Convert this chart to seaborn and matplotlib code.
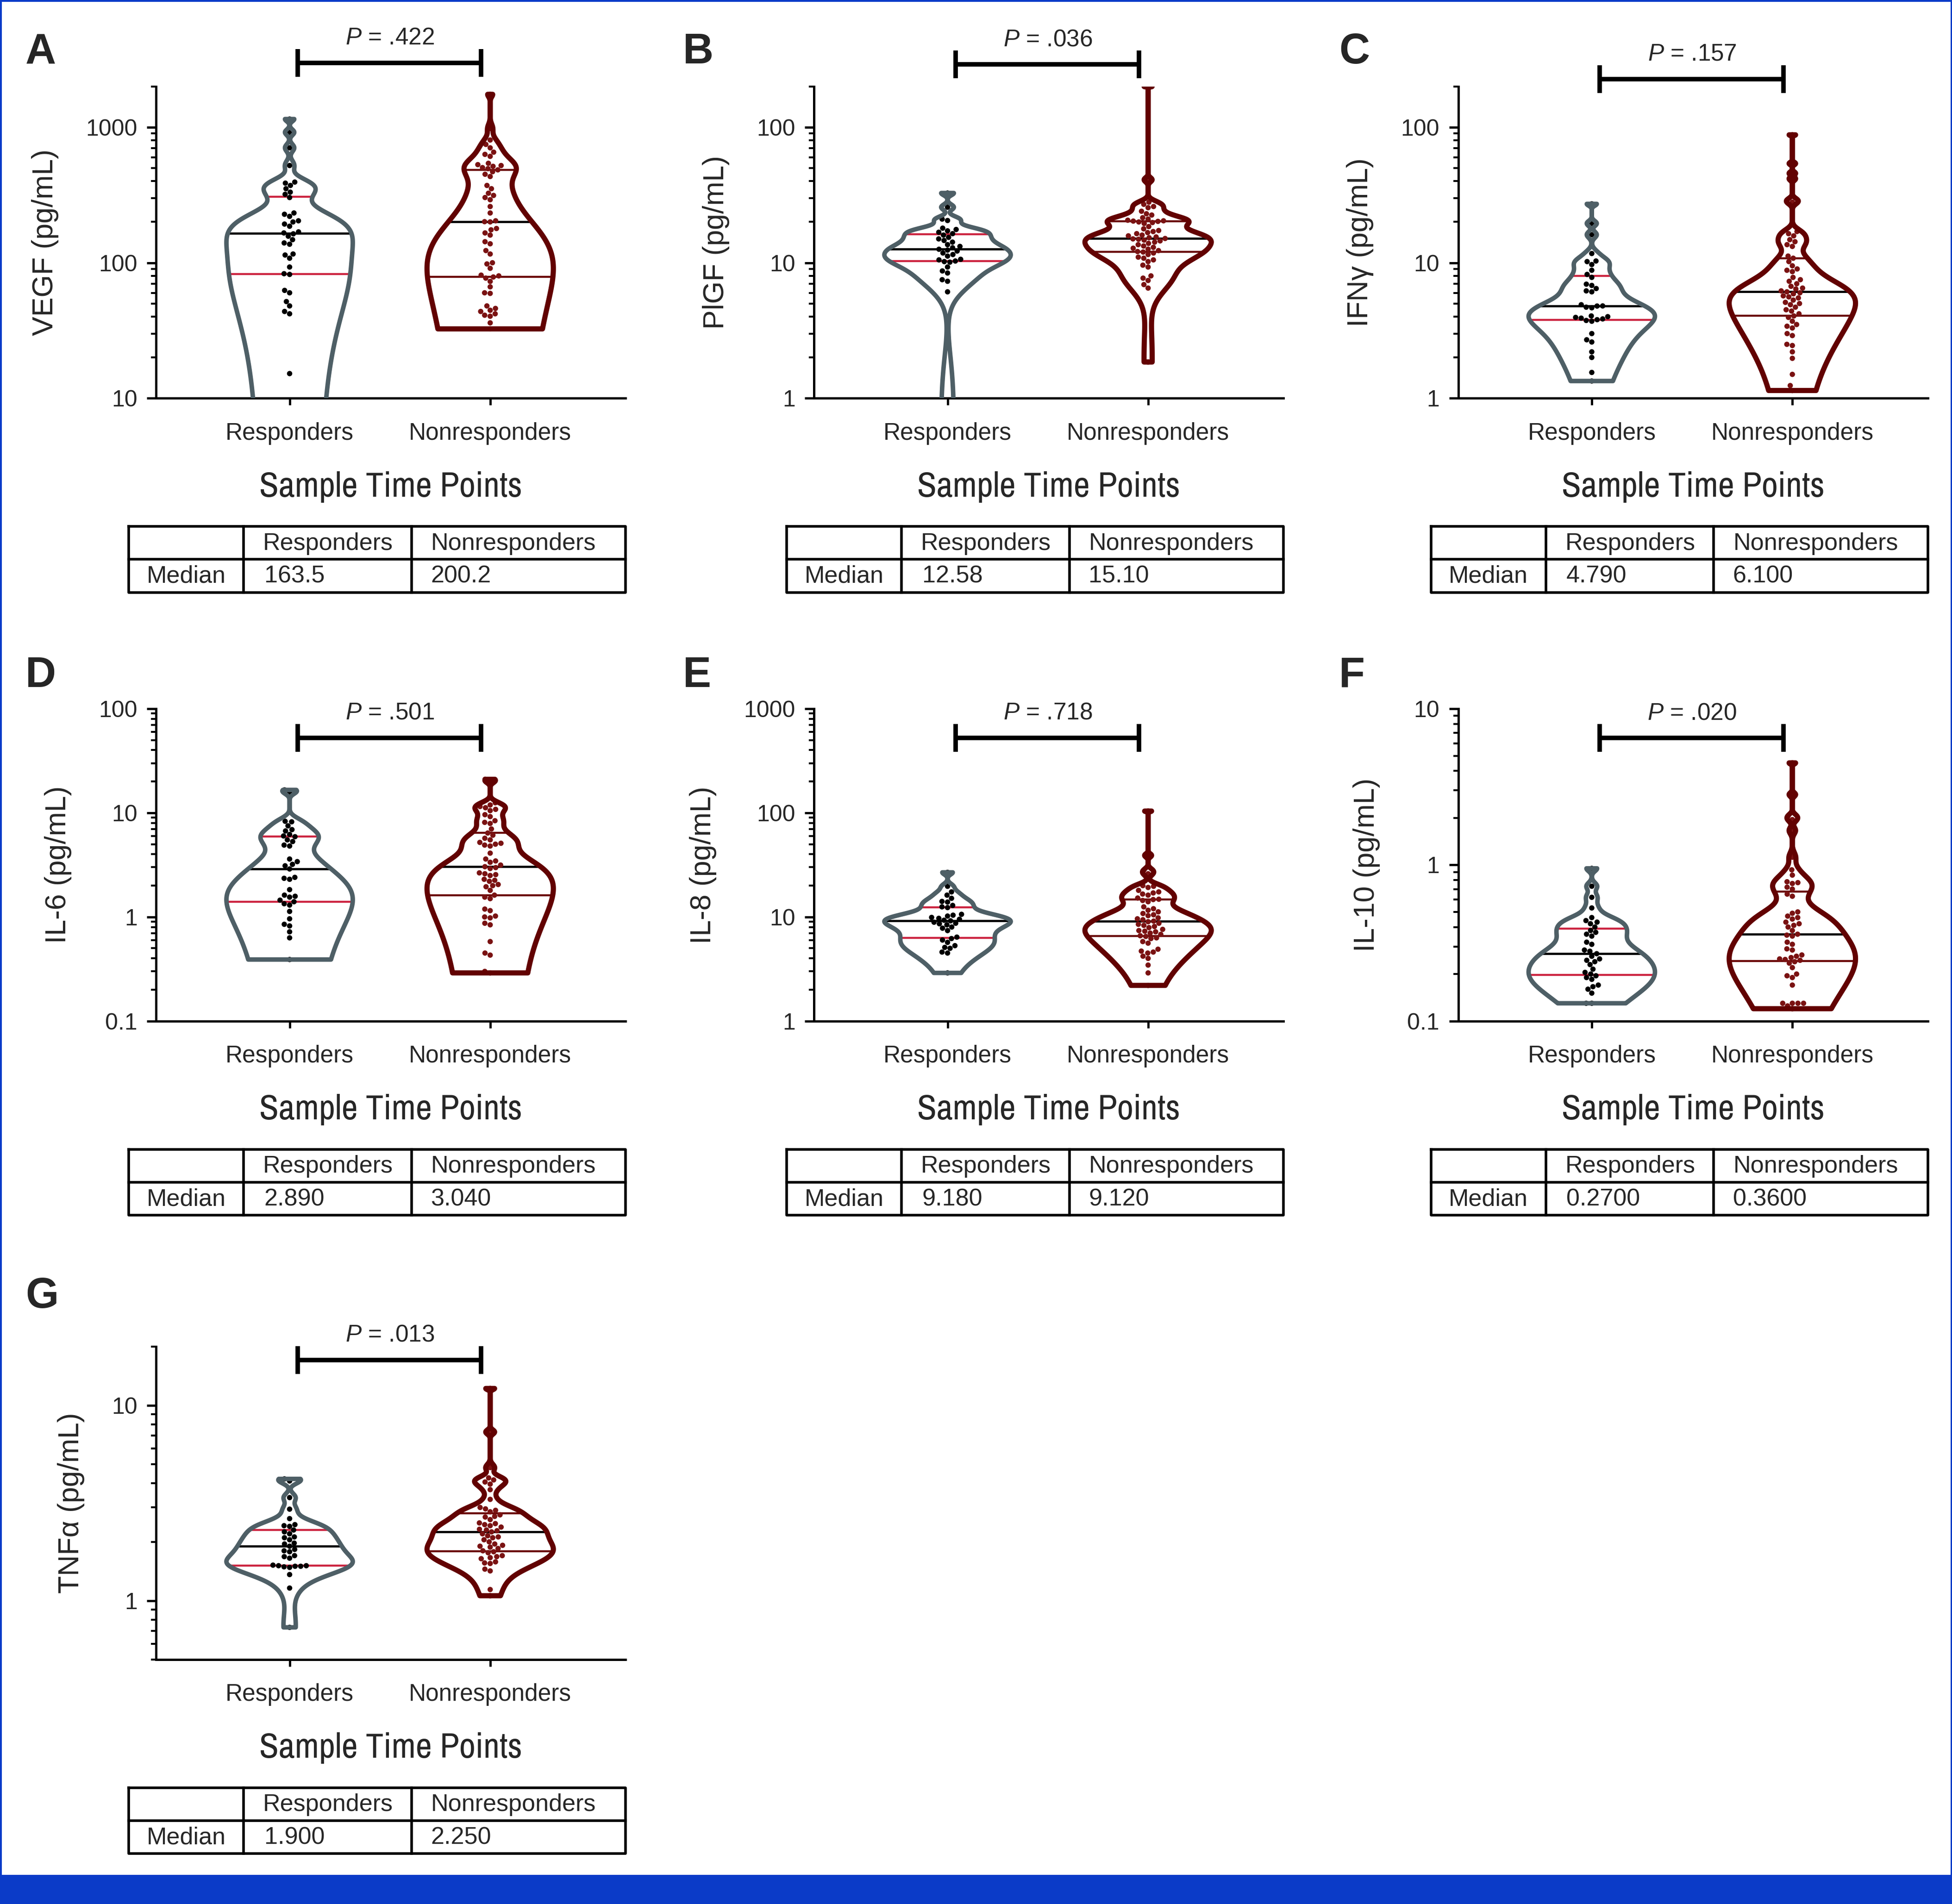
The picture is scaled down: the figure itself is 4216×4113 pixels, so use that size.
import numpy as np
import pandas as pd
import matplotlib
matplotlib.use("Agg")
import matplotlib.pyplot as plt
import matplotlib.ticker as mticker
import matplotlib.transforms as mtransforms
from matplotlib.patches import Rectangle
from matplotlib import font_manager
import seaborn as sns

# -----------------------------
# Data (pg/mL)
# -----------------------------
groups = ["Responders", "Nonresponders"]

vegf_resp = [7.5, 9.0, 15.2, 42, 43.7, 48, 51.7, 60, 62.5, 82, 83, 93, 108, 114, 116,
             137, 140, 148, 157, 163.5, 166, 169, 186, 193, 200, 204, 220, 228, 233,
             303, 320, 332, 352, 372, 387, 394, 522, 705, 918, 1150]
vegf_non = [1750, 980, 805, 747, 705, 655, 631, 610, 542, 530, 522, 515, 504, 495, 485,
            470, 450, 433, 372, 352, 326, 314, 303, 292, 260, 233, 204, 201, 200.2,
            179, 175, 166, 160, 143, 138, 123, 116, 100, 98, 91, 81, 80, 78.5, 77, 72.8,
            66.4, 60, 59.4, 48, 46, 44.6, 43.7, 42, 41, 40.3, 36, 32.5]

plgf_resp = [0.5, 6.1, 7.3, 7.5, 8.4, 8.7, 9.3, 10.1, 10.2, 10.3, 10.5, 10.6, 11.2, 11.5,
             11.8, 12.2, 12.4, 12.58, 12.9, 13.2, 13.6, 14.2, 14.6, 15.0, 15.4, 16.0,
             16.4, 16.8, 17.2, 17.6, 18.0, 20.5, 21.0, 25.7, 32.7]
plgf_non = [200, 41, 28, 27, 26, 25.5, 24, 23, 22.5, 21.5, 21, 20.6, 20.4, 20.3, 20.2,
            20.0, 19.8, 19.5, 18.5, 17.8, 17.3, 17.0, 16.7, 16.4, 16.0, 15.8, 15.5, 15.3,
            15.1, 15.0, 14.9, 14.7, 14.5, 14.2, 13.9, 13.6, 13.3, 13.0, 12.8, 12.6, 12.3,
            12.1, 12.0, 11.8, 11.5, 11.0, 10.8, 10.5, 10.2, 9.6, 9.3, 8.0, 7.7, 7.4, 6.9,
            6.5, 1.85]

ifng_resp = [1.34, 1.55, 2.0, 2.2, 2.6, 2.7, 3.0, 3.7, 3.75, 3.8, 3.85, 3.9, 3.95, 4.0,
             4.05, 4.65, 4.7, 4.79, 4.8, 4.9, 6.1, 6.2, 6.45, 6.8, 6.95, 7.8, 8.2, 8.8,
             9.7, 10.2, 10.3, 11.7, 16.1, 19.5, 27.2]
ifng_non = [88, 54, 45.7, 41.7, 29, 28, 17, 16.4, 15.8, 14.8, 14.3, 13.6, 13.2, 11.2,
            10.8, 10.2, 9.5, 9.0, 8.8, 8.6, 7.8, 7.5, 7.3, 7.0, 6.7, 6.5, 6.4, 6.2, 6.1,
            6.0, 5.9, 5.7, 5.6, 5.5, 5.3, 5.1, 5.0, 4.9, 4.7, 4.5, 4.4, 4.2, 4.05, 3.95,
            3.7, 3.5, 3.4, 3.3, 3.0, 2.9, 2.5, 2.45, 2.2, 1.97, 1.5, 1.24, 1.14]

il6_resp = [16.6, 15.8, 8.3, 8.2, 7.5, 6.9, 6.7, 6.2, 6.0, 5.9, 5.5, 5.3, 4.9, 4.8, 3.6,
            3.4, 3.2, 3.1, 2.89, 2.4, 2.35, 2.3, 1.83, 1.62, 1.58, 1.55, 1.45, 1.4, 1.34,
            1.3, 1.13, 0.96, 0.85, 0.82, 0.72, 0.63, 0.39]
il6_non = [21.0, 20.0, 12.5, 11.9, 11.5, 11.2, 10.8, 10.5, 9.6, 9.2, 8.4, 8.1, 7.9, 7.0,
           6.4, 6.1, 5.7, 5.5, 5.2, 5.1, 5.0, 4.9, 4.8, 4.1, 3.6, 3.45, 3.35, 3.15, 3.04,
           2.98, 2.92, 2.65, 2.6, 2.55, 2.5, 2.3, 2.25, 2.2, 2.05, 2.0, 1.95, 1.8, 1.62,
           1.55, 1.5, 1.19, 1.15, 1.02, 1.0, 0.98, 0.87, 0.84, 0.58, 0.45, 0.43, 0.3, 0.29]

il8_resp = [26.8, 19.7, 17.4, 16.2, 15.1, 14.1, 13.9, 12.9, 12.5, 12.3, 10.6, 10.4, 10.2,
            9.9, 9.7, 9.5, 9.3, 9.18, 8.9, 8.7, 8.6, 8.4, 8.0, 7.8, 7.4, 6.4, 6.2, 6.0,
            5.7, 5.3, 5.1, 5.0, 4.6, 4.5, 2.9]
il8_non = [104, 39, 28, 26, 20, 19.7, 19.2, 18, 17.4, 17.0, 16.6, 16.2, 15.2, 14.8, 14.7,
           14.4, 14.0, 12.5, 12.0, 11.6, 11.2, 10.8, 10.5, 10.3, 9.8, 9.6, 9.4, 9.12, 9.0,
           8.7, 8.5, 8.3, 8.1, 7.9, 7.6, 7.4, 7.3, 7.2, 7.0, 6.8, 6.6, 6.5, 6.3, 6.2, 5.8,
           5.6, 4.9, 4.7, 4.6, 4.5, 4.2, 4.0, 3.45, 2.9, 2.2]

il10_resp = [0.95, 0.73, 0.62, 0.53, 0.46, 0.44, 0.43, 0.42, 0.40, 0.38, 0.37, 0.36, 0.35,
             0.32, 0.31, 0.285, 0.28, 0.27, 0.26, 0.25, 0.245, 0.24, 0.23, 0.215, 0.205,
             0.2, 0.195, 0.19, 0.185, 0.17, 0.166, 0.16, 0.151, 0.13, 0.13]
il10_non = [4.5, 2.82, 2.05, 1.95, 1.66, 1.12, 0.93, 0.86, 0.78, 0.77, 0.76, 0.72, 0.70,
            0.65, 0.63, 0.50, 0.49, 0.47, 0.46, 0.45, 0.43, 0.42, 0.41, 0.40, 0.38, 0.36,
            0.355, 0.35, 0.32, 0.31, 0.29, 0.285, 0.265, 0.26, 0.255, 0.25, 0.248, 0.245,
            0.24, 0.235, 0.22, 0.2, 0.195, 0.19, 0.17, 0.13, 0.13, 0.13, 0.13, 0.125, 0.12]

tnfa_resp = [4.2, 4.1, 3.37, 2.94, 2.63, 2.45, 2.42, 2.4, 2.3, 2.25, 2.2, 2.12, 2.1, 2.05,
             1.97, 1.95, 1.9, 1.83, 1.8, 1.78, 1.7, 1.68, 1.65, 1.52, 1.51, 1.51, 1.5,
             1.5, 1.49, 1.48, 1.36, 1.16, 0.73]
tnfa_non = [12.2, 7.3, 4.8, 4.25, 4.15, 4.05, 3.95, 3.7, 3.3, 3.0, 2.95, 2.9, 2.85, 2.75,
            2.7, 2.68, 2.6, 2.5, 2.48, 2.45, 2.42, 2.38, 2.32, 2.3, 2.28, 2.25, 2.2, 2.15,
            2.12, 2.1, 2.05, 2.0, 1.95, 1.92, 1.9, 1.88, 1.85, 1.8, 1.78, 1.76, 1.7, 1.68,
            1.66, 1.64, 1.58, 1.56, 1.55, 1.45, 1.42, 1.14, 1.06]

letters = ["A", "B", "C", "D", "E", "F", "G"]
ylabels = ["VEGF (pg/mL)", "PlGF (pg/mL)", "IFNγ (pg/mL)", "IL-6 (pg/mL)",
           "IL-8 (pg/mL)", "IL-10 (pg/mL)", "TNFα (pg/mL)"]
p_values = [".422", ".036", ".157", ".501", ".718", ".020", ".013"]
median_resp_txt = ["163.5", "12.58", "4.790", "2.890", "9.180", "0.2700", "1.900"]
median_non_txt = ["200.2", "15.10", "6.100", "3.040", "9.120", "0.3600", "2.250"]
resp_sets = [vegf_resp, plgf_resp, ifng_resp, il6_resp, il8_resp, il10_resp, tnfa_resp]
non_sets = [vegf_non, plgf_non, ifng_non, il6_non, il8_non, il10_non, tnfa_non]

# -----------------------------
# Fonts / style
# -----------------------------
sns.set_style("ticks")
names = {f.name for f in font_manager.fontManager.ttflist}
REG = "Liberation Sans" if "Liberation Sans" in names else "DejaVu Sans"
narrow_cands = sorted(n for n in names
                      if ("Narrow" in n or "Condensed" in n) and "DejaVu" not in n)
if "Liberation Sans Narrow" in names:
    NARROW = "Liberation Sans Narrow"
elif narrow_cands:
    NARROW = narrow_cands[0]
else:
    NARROW = None
plt.rcParams["font.family"] = [REG, "DejaVu Sans"]
plt.rcParams["mathtext.fontset"] = "custom"
plt.rcParams["mathtext.rm"] = REG
plt.rcParams["mathtext.it"] = REG + ":italic"

outline_pal = {"Responders": "#4e5f66", "Nonresponders": "#620202"}
dot_pal = {"Responders": "#000000", "Nonresponders": "#7a1212"}
quart_col = {"Responders": "#cc2440", "Nonresponders": "#6a0808"}
outline_lw = {"Responders": 7.0, "Nonresponders": 8.0}
BLUE = "#0b3bc8"

# layout in reference pixel units (1568 x 1530 preview of the 4216 x 4113 figure)
W, H = 1568.0, 1530.0
col_left = [125.5, 654.0, 1171.5]
ax_w = 377.0
row_top = [69.5, 569.5, 1082.0]
row_bot = [320.0, 820.5, 1333.5]
letter_x = [20.5, 548.5, 1075.5]
letter_base = [51.0, 552.0, 1051.0]
ylims = [(10, 2000), (1, 200), (1, 200), (0.1, 100), (1, 1000), (0.1, 10), (0.5, 20)]
bracket_y = [1.076, 1.071, 1.024, 0.907, 0.907, 0.906, 0.957]


def robust_bw(kde):
    # Silverman-type rule that uses min(sd, IQR/1.34), so one far value
    # does not flatten the whole violin
    x = np.asarray(kde.dataset).ravel()
    sd = x.std(ddof=1)
    iqr = np.subtract(*np.percentile(x, [75, 25]))
    h = 0.9 * min(sd, iqr / 1.34) * len(x) ** -0.2
    return h / sd


fig = plt.figure(figsize=(42.16, 41.13), dpi=100)
fig.patch.set_facecolor("white")


def draw_table(left, top, resp_txt, non_txt):
    tw, th = 399.0, 53.0
    tax = fig.add_axes([left / W, 1 - (top + th) / H, tw / W, th / H])
    tax.set_xlim(0, tw)
    tax.set_ylim(th, 0)
    tax.axis("off")
    kw = dict(color="black", lw=4.0, clip_on=False, solid_capstyle="projecting")
    tax.plot([0, tw, tw, 0, 0], [0, 0, th, th, 0], **kw)
    tax.plot([0, tw], [26.5, 26.5], **kw)
    tax.plot([92.2, 92.2], [0, th], **kw)
    tax.plot([227.0, 227.0], [0, th], **kw)
    fs = 37.5
    tax.text(107.8, 18.8, "Responders", fontsize=fs, va="baseline", ha="left")
    tax.text(242.7, 18.8, "Nonresponders", fontsize=fs, va="baseline", ha="left")
    tax.text(14.2, 45.2, "Median", fontsize=fs, va="baseline", ha="left")
    tax.text(108.7, 45.2, resp_txt, fontsize=fs, va="baseline", ha="left")
    tax.text(242.4, 45.2, non_txt, fontsize=fs, va="baseline", ha="left")


for i in range(7):
    r, c = divmod(i, 3)
    ax = fig.add_axes([col_left[c] / W, 1 - row_bot[r] / H, ax_w / W,
                       (row_bot[r] - row_top[r]) / H])
    resp, non = resp_sets[i], non_sets[i]
    df = pd.DataFrame({
        "group": ["Responders"] * len(resp) + ["Nonresponders"] * len(non),
        "value": list(resp) + list(non),
    })

    # density estimated on the linear values, then shown on a log axis
    n0 = len(ax.collections)
    sns.violinplot(data=df, x="group", y="value", hue="group", order=groups,
                   hue_order=groups, palette=outline_pal, fill=False, inner=None,
                   cut=0, bw_method=robust_bw, bw_adjust=0.62, width=0.63,
                   density_norm="width", linewidth=7, gridsize=2000, legend=False,
                   ax=ax)
    violins = ax.collections[n0:]
    ax.set_yscale("log")

    for j, (g, coll) in enumerate(zip(groups, violins)):
        coll.set_linewidth(outline_lw[g])
        coll.set_zorder(4)
        coll.set_joinstyle("round")
        verts = coll.get_paths()[0].vertices
        left = verts[verts[:, 0] < j - 1e-9]
        order = np.argsort(left[:, 1])
        ly = left[order, 1]
        lx = left[order, 0]
        vals = df.loc[df["group"] == g, "value"].to_numpy()
        q1, med, q3 = np.percentile(vals, [25, 50, 75])
        for q, colr, lw in ((q1, quart_col[g], 3.2), (q3, quart_col[g], 3.2),
                            (med, "black", 3.4)):
            hw = j - np.interp(q, ly, lx)
            ax.plot([j - hw, j + hw], [q, q], color=colr, lw=lw, zorder=2,
                    solid_capstyle="butt")

    n1 = len(ax.collections)
    sns.swarmplot(data=df, x="group", y="value", hue="group", order=groups,
                  hue_order=groups, palette=dot_pal, size=8.3, linewidth=0,
                  log_scale=True, legend=False, ax=ax)
    for coll in ax.collections[n1:]:
        coll.set_zorder(3)

    lo, hi = ylims[i]
    ax.set_ylim(lo, hi)
    ax.set_xlim(-0.665, 1.675)
    decades = [10.0 ** k for k in range(int(np.ceil(np.log10(lo) - 1e-9)),
                                        int(np.floor(np.log10(hi) + 1e-9)) + 1)]
    ax.yaxis.set_major_locator(mticker.FixedLocator(decades))
    ax.yaxis.set_major_formatter(mticker.FuncFormatter(lambda v, _: f"{v:g}"))
    ax.yaxis.set_minor_locator(mticker.LogLocator(base=10, subs=np.arange(2, 10),
                                                  numticks=50))
    ax.yaxis.set_minor_formatter(mticker.NullFormatter())
    ax.tick_params(axis="y", which="major", length=14.4, width=3.5, labelsize=36,
                   pad=15, color="black")
    ax.tick_params(axis="y", which="minor", length=8, width=3.0, color="black")
    ax.tick_params(axis="x", which="both", length=11, width=3.5, labelsize=37,
                   pad=26, color="black")
    ax.set_xlabel("")
    ax.set_ylabel(ylabels[i], fontsize=45, labelpad=42)
    for s in ["top", "right"]:
        ax.spines[s].set_visible(False)
    for s in ["left", "bottom"]:
        ax.spines[s].set_linewidth(3.6)
        ax.spines[s].set_color("black")
    ax.set_facecolor("none")

    # significance bracket
    trans = mtransforms.blended_transform_factory(ax.transData, ax.transAxes)
    b = bracket_y[i]
    bk = dict(color="black", lw=7, transform=trans, clip_on=False,
              solid_capstyle="butt")
    ax.plot([0.04, 0.955], [b, b], **bk)
    ax.plot([0.04, 0.04], [b - 0.0445, b + 0.0445], **bk)
    ax.plot([0.955, 0.955], [b - 0.0445, b + 0.0445], **bk)
    ax.text(0.5, b + 0.059, r"$\mathit{P}$ = " + p_values[i], transform=trans,
            ha="center", va="baseline", fontsize=37)

    # x title, panel letter, table
    if NARROW:
        fig.text((col_left[c] + ax_w / 2) / W, 1 - (row_bot[r] + 79) / H,
                 "Sample Time Points", ha="center", va="baseline", fontsize=55,
                 family=[NARROW, "DejaVu Sans"])
    else:
        fig.text((col_left[c] + ax_w / 2) / W, 1 - (row_bot[r] + 79) / H,
                 "Sample Time Points", ha="center", va="baseline", fontsize=49)
    fig.text(letter_x[c] / W, 1 - letter_base[r] / H, letters[i], fontsize=66,
             fontweight="bold", ha="left", va="baseline")
    draw_table(col_left[c] - 22.0, row_bot[r] + 103.0, median_resp_txt[i],
               median_non_txt[i])

# blue frame of the page
fig.add_artist(Rectangle((0, 0), 1, 1, transform=fig.transFigure, fill=False,
                         edgecolor=BLUE, lw=5, zorder=10))
fig.add_artist(Rectangle((0, 0), 1, 63 / 4113, transform=fig.transFigure,
                         facecolor=BLUE, edgecolor="none", zorder=10))

fig.savefig("out.png", dpi=100)
plt.close(fig)
